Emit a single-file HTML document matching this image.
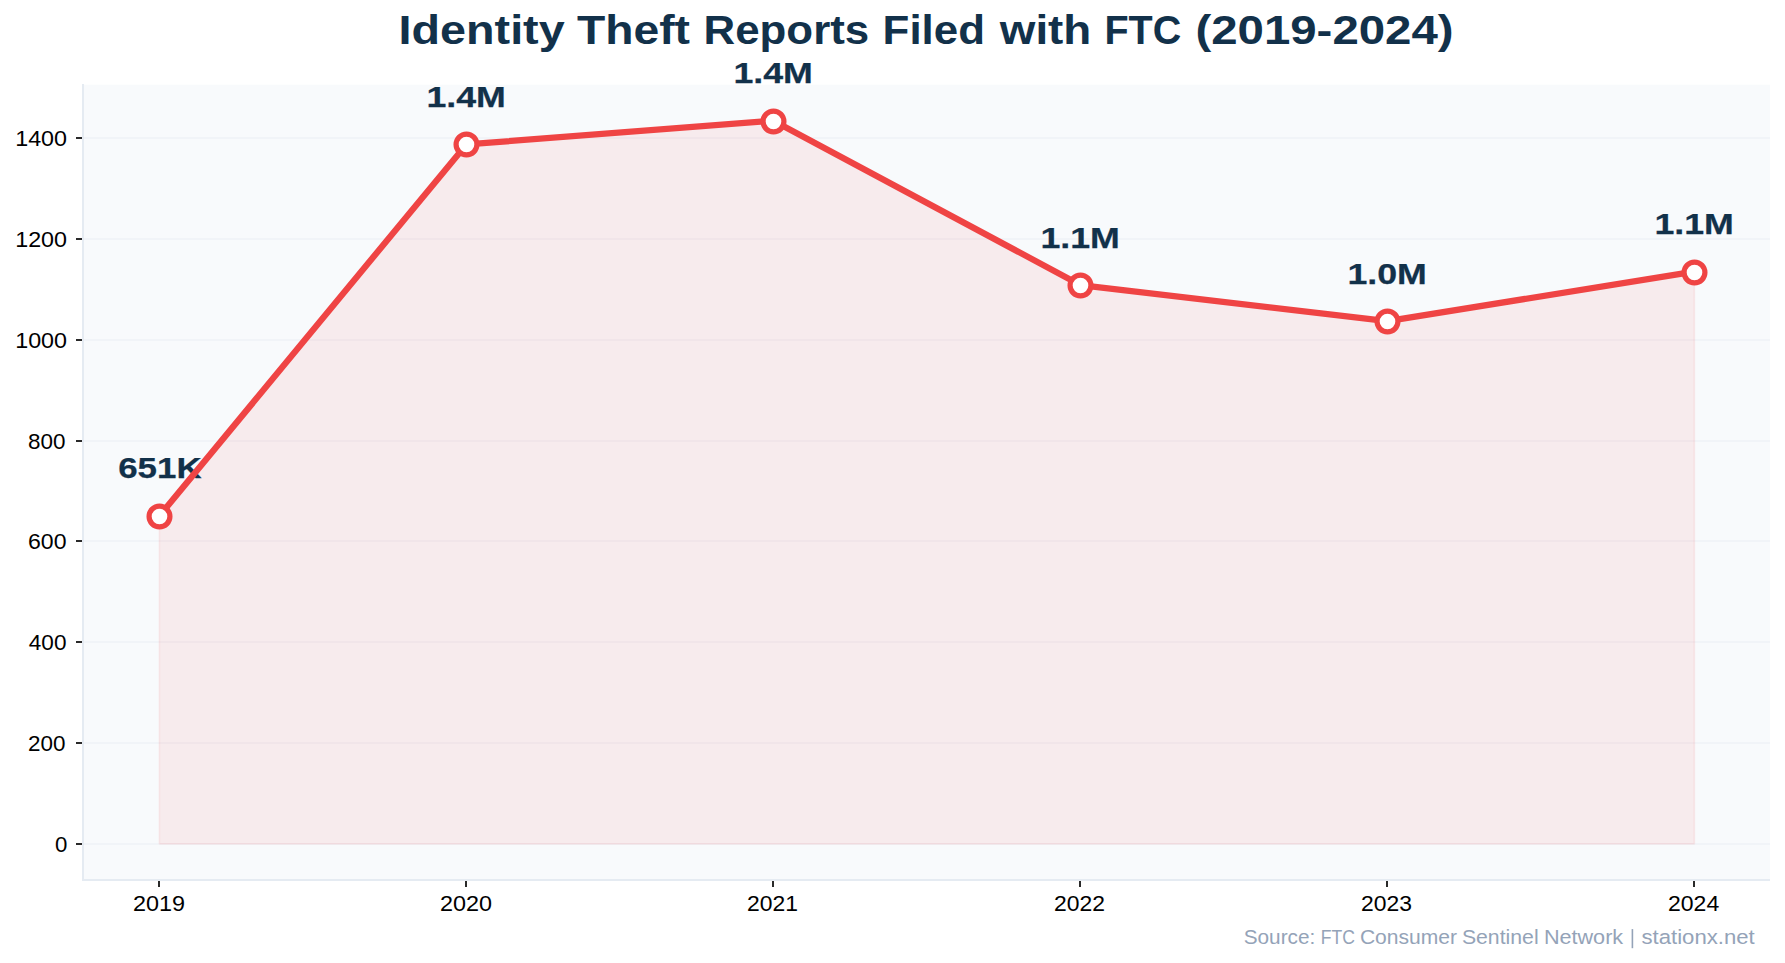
<!DOCTYPE html>
<html><head><meta charset="utf-8"><title>Identity Theft Reports Filed with FTC (2019-2024)</title><style>html,body{margin:0;padding:0;background:#fff;overflow:hidden;width:1785px;height:963px}svg{display:block}</style></head><body>
<svg width="1785" height="963" viewBox="0 0 1785 963" font-family="'Liberation Sans', sans-serif">
<rect width="1785" height="963" fill="#ffffff"/>
<rect x="84" y="84.7" width="1686" height="794.3" fill="#f8fafc"/>
<rect x="84" y="843" width="1686" height="2" fill="#e2e8f0" fill-opacity="0.32"/>
<rect x="84" y="742" width="1686" height="2" fill="#e2e8f0" fill-opacity="0.32"/>
<rect x="84" y="641" width="1686" height="2" fill="#e2e8f0" fill-opacity="0.32"/>
<rect x="84" y="540" width="1686" height="2" fill="#e2e8f0" fill-opacity="0.32"/>
<rect x="84" y="440" width="1686" height="2" fill="#e2e8f0" fill-opacity="0.32"/>
<rect x="84" y="339" width="1686" height="2" fill="#e2e8f0" fill-opacity="0.32"/>
<rect x="84" y="238" width="1686" height="2" fill="#e2e8f0" fill-opacity="0.32"/>
<rect x="84" y="137" width="1686" height="2" fill="#e2e8f0" fill-opacity="0.32"/>
<polygon points="159.40,843.84 159.40,515.91 466.39,144.39 773.38,120.66 1080.37,285.03 1387.36,321.17 1694.35,271.58 1694.35,843.84" fill="#ef4444" fill-opacity="0.08" stroke="#ef4444" stroke-opacity="0.08" stroke-width="1.67" stroke-linejoin="round"/>
<rect x="82" y="84" width="2" height="797" fill="#e5ebf2"/>
<rect x="82" y="879" width="1688" height="2" fill="#e5ebf2"/>
<rect x="76" y="843" width="6" height="2" fill="#2a2a2a"/>
<rect x="76" y="742" width="6" height="2" fill="#2a2a2a"/>
<rect x="76" y="641" width="6" height="2" fill="#2a2a2a"/>
<rect x="76" y="540" width="6" height="2" fill="#2a2a2a"/>
<rect x="76" y="440" width="6" height="2" fill="#2a2a2a"/>
<rect x="76" y="339" width="6" height="2" fill="#2a2a2a"/>
<rect x="76" y="238" width="6" height="2" fill="#2a2a2a"/>
<rect x="76" y="137" width="6" height="2" fill="#2a2a2a"/>
<rect x="158" y="881" width="2" height="6" fill="#2a2a2a"/>
<rect x="465" y="881" width="2" height="6" fill="#2a2a2a"/>
<rect x="772" y="881" width="2" height="6" fill="#2a2a2a"/>
<rect x="1079" y="881" width="2" height="6" fill="#2a2a2a"/>
<rect x="1386" y="881" width="2" height="6" fill="#2a2a2a"/>
<rect x="1693" y="881" width="2" height="6" fill="#2a2a2a"/>
<text x="55.00" y="852.00" font-size="22.50" font-weight="normal" fill="#000000" textLength="12.36" lengthAdjust="spacingAndGlyphs">0</text>
<text x="28.00" y="751.00" font-size="22.50" font-weight="normal" fill="#000000" textLength="37.44" lengthAdjust="spacingAndGlyphs">200</text>
<text x="28.80" y="650.00" font-size="22.50" font-weight="normal" fill="#000000" textLength="37.67" lengthAdjust="spacingAndGlyphs">400</text>
<text x="28.00" y="549.00" font-size="22.50" font-weight="normal" fill="#000000" textLength="38.48" lengthAdjust="spacingAndGlyphs">600</text>
<text x="28.00" y="449.00" font-size="22.50" font-weight="normal" fill="#000000" textLength="37.44" lengthAdjust="spacingAndGlyphs">800</text>
<text x="15.20" y="348.00" font-size="22.50" font-weight="normal" fill="#000000" textLength="51.81" lengthAdjust="spacingAndGlyphs">1000</text>
<text x="15.20" y="247.00" font-size="22.50" font-weight="normal" fill="#000000" textLength="51.81" lengthAdjust="spacingAndGlyphs">1200</text>
<text x="15.20" y="146.00" font-size="22.50" font-weight="normal" fill="#000000" textLength="51.81" lengthAdjust="spacingAndGlyphs">1400</text>
<text x="133.00" y="911.00" font-size="22.50" font-weight="normal" fill="#000000" textLength="52.00" lengthAdjust="spacingAndGlyphs">2019</text>
<text x="440.00" y="911.00" font-size="22.50" font-weight="normal" fill="#000000" textLength="52.00" lengthAdjust="spacingAndGlyphs">2020</text>
<text x="747.00" y="911.00" font-size="22.50" font-weight="normal" fill="#000000" textLength="50.96" lengthAdjust="spacingAndGlyphs">2021</text>
<text x="1054.00" y="911.00" font-size="22.50" font-weight="normal" fill="#000000" textLength="50.96" lengthAdjust="spacingAndGlyphs">2022</text>
<text x="1361.00" y="911.00" font-size="22.50" font-weight="normal" fill="#000000" textLength="50.96" lengthAdjust="spacingAndGlyphs">2023</text>
<text x="1668.00" y="911.00" font-size="22.50" font-weight="normal" fill="#000000" textLength="51.18" lengthAdjust="spacingAndGlyphs">2024</text>
<text x="118.20" y="478.00" font-size="30.30" font-weight="bold" fill="#12314a" stroke="#12314a" stroke-width="0.25" textLength="83.42" lengthAdjust="spacingAndGlyphs">651K</text>
<text x="426.40" y="107.00" font-size="30.30" font-weight="bold" fill="#12314a" stroke="#12314a" stroke-width="0.25" textLength="79.53" lengthAdjust="spacingAndGlyphs">1.4M</text>
<text x="733.40" y="83.00" font-size="30.30" font-weight="bold" fill="#12314a" stroke="#12314a" stroke-width="0.25" textLength="79.53" lengthAdjust="spacingAndGlyphs">1.4M</text>
<text x="1040.40" y="248.00" font-size="30.30" font-weight="bold" fill="#12314a" stroke="#12314a" stroke-width="0.25" textLength="79.53" lengthAdjust="spacingAndGlyphs">1.1M</text>
<text x="1347.40" y="284.00" font-size="30.30" font-weight="bold" fill="#12314a" stroke="#12314a" stroke-width="0.25" textLength="79.53" lengthAdjust="spacingAndGlyphs">1.0M</text>
<text x="1654.40" y="234.00" font-size="30.30" font-weight="bold" fill="#12314a" stroke="#12314a" stroke-width="0.25" textLength="79.53" lengthAdjust="spacingAndGlyphs">1.1M</text>
<polyline points="159.40,515.91 466.39,144.39 773.38,120.66 1080.37,285.03 1387.36,321.17 1694.35,271.58" fill="none" stroke="#ef4444" stroke-width="6.25" stroke-linejoin="round" stroke-linecap="butt"/>
<circle cx="159.5" cy="516.5" r="10.42" fill="#ffffff" stroke="#ef4444" stroke-width="5.21"/>
<circle cx="466.5" cy="144.5" r="10.42" fill="#ffffff" stroke="#ef4444" stroke-width="5.21"/>
<circle cx="773.5" cy="121.5" r="10.42" fill="#ffffff" stroke="#ef4444" stroke-width="5.21"/>
<circle cx="1080.5" cy="285.5" r="10.42" fill="#ffffff" stroke="#ef4444" stroke-width="5.21"/>
<circle cx="1387.5" cy="321.5" r="10.42" fill="#ffffff" stroke="#ef4444" stroke-width="5.21"/>
<circle cx="1694.5" cy="272.5" r="10.42" fill="#ffffff" stroke="#ef4444" stroke-width="5.21"/>
<text x="398.60" y="44.00" font-size="39.90" font-weight="bold" fill="#12314a" textLength="166.03" lengthAdjust="spacingAndGlyphs">Identity</text>
<text x="577.00" y="44.00" font-size="39.90" font-weight="bold" fill="#12314a" textLength="113.01" lengthAdjust="spacingAndGlyphs">Theft</text>
<text x="703.60" y="44.00" font-size="39.90" font-weight="bold" fill="#12314a" textLength="165.57" lengthAdjust="spacingAndGlyphs">Reports</text>
<text x="882.60" y="44.00" font-size="39.90" font-weight="bold" fill="#12314a" textLength="102.39" lengthAdjust="spacingAndGlyphs">Filed</text>
<text x="999.80" y="44.00" font-size="39.90" font-weight="bold" fill="#12314a" textLength="91.52" lengthAdjust="spacingAndGlyphs">with</text>
<text x="1104.40" y="44.00" font-size="39.90" font-weight="bold" fill="#12314a" textLength="76.79" lengthAdjust="spacingAndGlyphs">FTC</text>
<text x="1195.40" y="44.00" font-size="39.90" font-weight="bold" fill="#12314a" textLength="258.21" lengthAdjust="spacingAndGlyphs">(2019-2024)</text>
<text x="1243.70" y="944.00" font-size="19.90" font-weight="normal" fill="#94a3b8" textLength="71.56" lengthAdjust="spacingAndGlyphs">Source:</text>
<text x="1320.70" y="944.00" font-size="19.90" font-weight="normal" fill="#94a3b8" textLength="34.14" lengthAdjust="spacingAndGlyphs">FTC</text>
<text x="1359.90" y="944.00" font-size="19.90" font-weight="normal" fill="#94a3b8" textLength="97.18" lengthAdjust="spacingAndGlyphs">Consumer</text>
<text x="1461.90" y="944.00" font-size="19.90" font-weight="normal" fill="#94a3b8" textLength="76.75" lengthAdjust="spacingAndGlyphs">Sentinel</text>
<text x="1543.90" y="944.00" font-size="19.90" font-weight="normal" fill="#94a3b8" textLength="79.26" lengthAdjust="spacingAndGlyphs">Network</text>
<text x="1641.50" y="944.00" font-size="19.90" font-weight="normal" fill="#94a3b8" textLength="113.27" lengthAdjust="spacingAndGlyphs">stationx.net</text>
<rect x="1631.6" y="929.1" width="1.6" height="19.1" fill="#94a3b8"/>
</svg>
</body></html>
